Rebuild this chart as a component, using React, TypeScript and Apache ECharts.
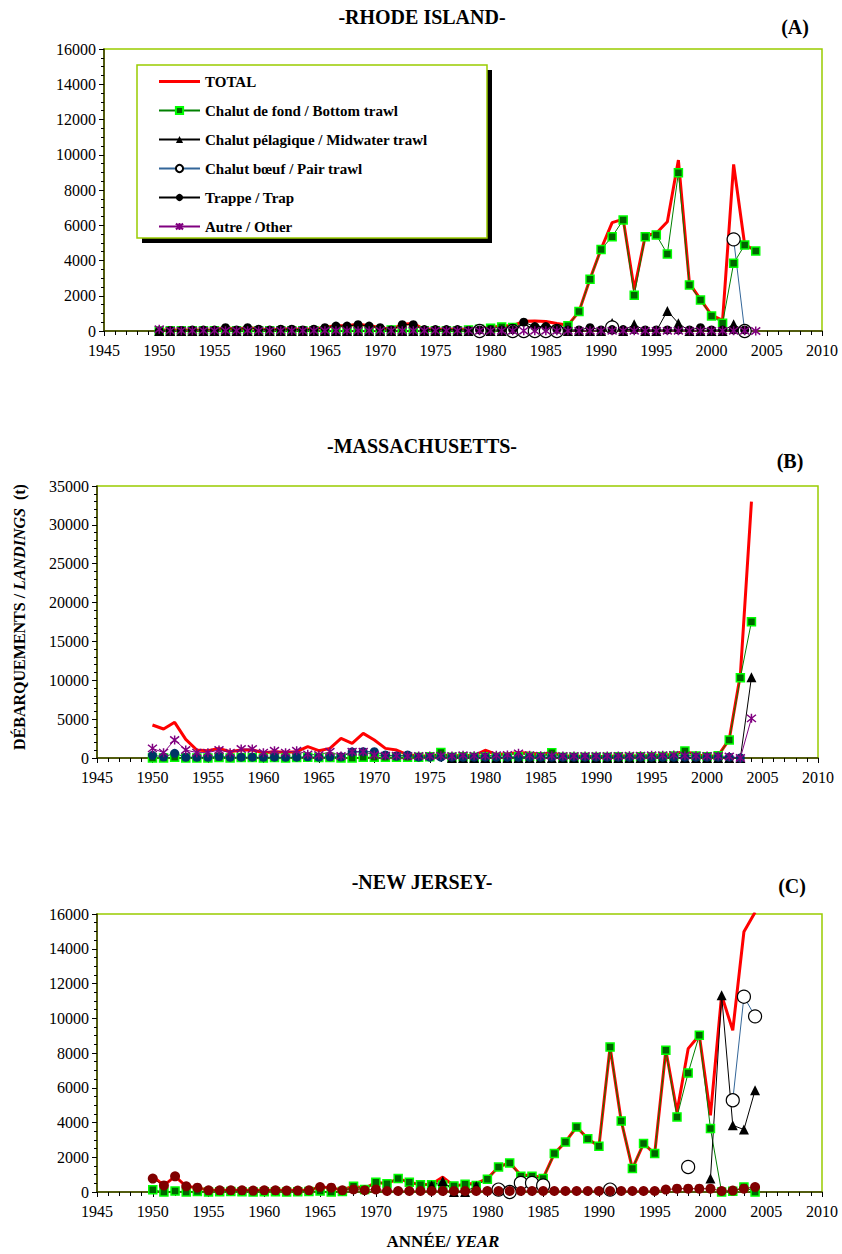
import React, { useEffect, useRef } from "react";
import * as echarts from "echarts";

const years = [
  1950, 1951, 1952, 1953, 1954, 1955, 1956, 1957, 1958, 1959,
  1960, 1961, 1962, 1963, 1964, 1965, 1966, 1967, 1968, 1969,
  1970, 1971, 1972, 1973, 1974, 1975, 1976, 1977, 1978, 1979,
  1980, 1981, 1982, 1983, 1984, 1985, 1986, 1987, 1988, 1989,
  1990, 1991, 1992, 1993, 1994, 1995, 1996, 1997, 1998, 1999,
  2000, 2001, 2002, 2003, 2004,
];

const seriesNames = [
  "TOTAL",
  "Chalut de fond / Bottom trawl",
  "Chalut pélagique / Midwater trawl",
  "Chalut bœuf / Pair trawl",
  "Trappe / Trap",
  "Autre / Other",
];

const panelTitles = ["-RHODE ISLAND-", "-MASSACHUSETTS-", "-NEW JERSEY-"];
const panelLetters = ["(A)", "(B)", "(C)"];
const yMaxes = [16000, 35000, 16000];
const yIntervals = [2000, 5000, 2000];

// ---------- (A) Rhode Island ----------
const riTotal = [
  50, 50, 50, 60, 60, 60, 200, 80, 200, 120,
  60, 120, 120, 80, 120, 200, 300, 300, 380, 300,
  200, 80, 380, 420, 100, 100, 100, 100, 80, 150,
  200, 280, 300, 550, 570, 540, 420, 330, 1100, 2950,
  4650, 6150, 6350, 2350, 5400, 5550, 6200, 9700, 2700, 1800,
  900, 600, 9450, 4900, 4550,
];
const riBottom = [
  0, 10, 10, 10, 10, 10, 20, 10, 20, 20,
  10, 20, 20, 10, 20, 20, 20, 20, 20, 20,
  10, 60, 20, 20, 10, 10, 10, 20, 60, 100,
  150, 230, 200, 30, 30, 30, 50, 300, 1100, 2930,
  4630, 5350, 6300, 2030, 5350, 5450, 4370, 8980, 2610, 1760,
  850, 440, 3840, 4880, 4540,
];
const riMidwater = [
  0, 0, 0, 0, 0, 0, 0, 0, 0, 0,
  0, 0, 0, 0, 0, 0, 0, 0, 0, 0,
  0, 0, 0, 0, 0, 0, 0, 0, 0, 0,
  0, 0, 0, 0, 0, 0, 0, 0, 0, 0,
  0, 450, 0, 380, 0, 0, 1140, 440, 0, 0,
  0, 0, 380, 0, null,
];
const riPair = [
  null, null, null, null, null, null, null, null, null, null,
  null, null, null, null, null, null, null, null, null, null,
  null, null, null, null, null, null, null, null, null, 0,
  null, null, 0, 0, 0, 0, 0, null, null, null,
  null, 200, null, null, null, null, null, null, null, null,
  null, null, 5200, 0, null,
];
const riTrap = [
  0, 30, 30, 50, 50, 50, 190, 60, 190, 100,
  50, 100, 100, 60, 100, 190, 280, 280, 360, 280,
  190, 60, 360, 360, 80, 80, 80, 80, 30, 60,
  60, 60, 80, 500, 250, 250, 100, 60, 60, 190,
  60, 80, 80, 80, 60, 60, 60, 60, 60, 190,
  60, 60, 60, 60, null,
];
const riOther = [
  100, 20, 20, 20, 20, 20, 20, 20, 20, 20,
  20, 20, 20, 20, 20, 20, 20, 20, 20, 20,
  20, 20, 20, 20, 20, 20, 20, 20, 20, 10,
  10, 10, 10, 10, 10, 10, 10, 10, 10, 10,
  10, 10, 10, 10, 10, 10, 10, 10, 10, 10,
  10, 10, 10, 10, 0,
];

// ---------- (B) Massachusetts ----------
const maTotal = [
  4250, 3730, 4590, 2400, 1030, 940, 1240, 810, 1030, 1030,
  690, 810, 750, 810, 1460, 940, 1240, 2530, 1890, 3170,
  2320, 1240, 1030, 390, 300, 250, 450, 250, 350, 300,
  1000, 450, 550, 700, 600, 500, 700, 300, 250, 200,
  200, 200, 300, 250, 300, 300, 400, 450, 900, 400,
  250, 300, 2400, 10700, 32980,
];
const maBottom = [
  0, 0, 100, 0, 0, 0, 50, 0, 50, 50,
  0, 50, 0, 50, 100, 50, 50, 0, 0, 100,
  100, 100, 100, 100, 100, 150, 700, 100, 150, 100,
  150, 100, 100, 150, 200, 150, 690, 100, 100, 100,
  100, 100, 150, 100, 150, 150, 200, 250, 900, 250,
  150, 300, 2320, 10330, 17540,
];
const maMidwater = [
  null, null, null, null, null, null, null, null, null, null,
  null, null, null, null, null, null, null, null, null, null,
  null, null, null, null, null, null, null, 0, 0, 0,
  0, 0, 0, 0, 0, 0, 0, 0, 0, 0,
  0, 0, 0, 0, 0, 0, 0, 0, 0, 0,
  0, 0, 0, 0, 10380,
];
const maTrap = [
  350, 150, 600, 100, 100, 100, 200, 100, 100, 100,
  100, 100, 100, 100, 150, 100, 150, 150, 770, 810,
  810, 390, 260, 390, 100, 100, 100, 100, 100, 100,
  100, 100, 100, 100, 100, 100, 100, 100, 100, 100,
  100, 100, 100, 100, 100, 100, 100, 100, 100, 100,
  100, 100, 100, 0, null,
];
const maOther = [
  1240, 690, 2320, 1030, 690, 690, 1030, 690, 1160, 1160,
  690, 940, 690, 940, 470, 390, 810, 260, 810, 810,
  390, 300, 300, 250, 250, 250, 300, 250, 350, 300,
  300, 350, 400, 600, 350, 300, 300, 250, 250, 250,
  250, 250, 250, 300, 300, 350, 350, 400, 300, 300,
  250, 250, 200, 0, 5100,
];

// ---------- (C) New Jersey ----------
const njTotal = [
  900, 380, 900, 330, 250, 100, 100, 100, 100, 100,
  100, 100, 100, 100, 100, 290, 250, 100, 350, 200,
  560, 480, 770, 560, 420, 450, 860, 350, 440, 500,
  770, 1440, 1690, 960, 960, 800, 2210, 2880, 3740, 3070,
  2630, 8340, 4090, 1350, 2790, 2210, 8160, 4600, 8250, 9020,
  4410, 11320, 9300, 14980, 16100,
];
const njBottom = [
  130, 0, 60, 0, 30, 0, 20, 30, 20, 0,
  20, 20, 0, 20, 30, 60, 0, 30, 330, 150,
  560, 480, 770, 560, 420, 420, 400, 350, 440, 380,
  730, 1440, 1670, 900, 900, 770, 2210, 2880, 3740, 3070,
  2630, 8340, 4090, 1350, 2790, 2210, 8160, 4320, 6850, 9020,
  3650, 0, 50, 290, 0,
];
const njMidwater = [
  null, null, null, null, null, null, null, null, null, null,
  null, null, null, null, null, null, null, null, null, null,
  null, null, null, null, null, 380, 630, 0, 0, 350,
  null, null, null, null, null, null, null, null, null, null,
  null, null, null, null, null, null, null, null, null, null,
  770, 11320, 3840, 3590, 5850,
];
const njPair = [
  null, null, null, null, null, null, null, null, null, null,
  null, null, null, null, null, null, null, null, null, null,
  null, null, null, null, null, null, null, null, null, null,
  null, 140, 0, 520, 520, 380, null, null, null, null,
  null, 140, null, null, null, null, null, null, 1440, null,
  null, null, 5280, 11240, 10110,
];
const njTrap = [
  770, 380, 900, 330, 250, 100, 100, 100, 100, 80,
  100, 100, 80, 80, 100, 290, 250, 100, 150, 100,
  150, 60, 60, 60, 60, 60, 60, 60, 60, 60,
  60, 60, 60, 60, 60, 60, 60, 60, 60, 60,
  60, 60, 60, 60, 60, 60, 140, 190, 190, 190,
  190, 60, 80, 190, 290,
];

const SERIF = "Liberation Serif";
const ASTERISK = "path://M0,1L10,9M10,1L0,9M5,0L5,10";

function pairs(vals: (number | null)[]) {
  return years.map((y, i) => [y, vals[i] === null ? null : vals[i]]);
}

type Style = {
  line: string;
  width: number;
  symbol: string;
  size: number;
  fill: string;
  border: string;
  bw: number;
};

const styleTotal: Style = { line: "#ff0000", width: 3, symbol: "none", size: 0, fill: "#ff0000", border: "#ff0000", bw: 0 };
const styleBottom: Style = { line: "#008000", width: 1, symbol: "rect", size: 8, fill: "#006400", border: "#00ff00", bw: 1.5 };
const styleMid: Style = { line: "#000000", width: 1, symbol: "triangle", size: 10, fill: "#000000", border: "#000000", bw: 0 };
const stylePair: Style = { line: "#336699", width: 1, symbol: "circle", size: 13, fill: "#ffffff", border: "#000000", bw: 1.2 };
const styleTrapA: Style = { line: "#000000", width: 1, symbol: "circle", size: 9, fill: "#000000", border: "#000000", bw: 0 };
const styleTrapB: Style = { line: "#003366", width: 1, symbol: "circle", size: 9, fill: "#003366", border: "#003366", bw: 0 };
const styleTrapC: Style = { line: "#800000", width: 1, symbol: "circle", size: 10, fill: "#800000", border: "#800000", bw: 0 };
const styleOther: Style = { line: "#800080", width: 1, symbol: ASTERISK, size: 9, fill: "#800080", border: "#800080", bw: 1.5 };

function mk(name: string, idx: number, vals: (number | null)[], s: Style) {
  return {
    type: "line",
    name,
    xAxisIndex: idx,
    yAxisIndex: idx,
    data: pairs(vals),
    symbol: s.symbol,
    symbolSize: s.size,
    showSymbol: s.symbol !== "none",
    connectNulls: false,
    clip: true,
    lineStyle: { color: s.line, width: s.width },
    itemStyle: { color: s.fill, borderColor: s.border, borderWidth: s.bw },
    emphasis: { disabled: true },
  };
}

const grids = [
  { left: 104, top: 49, width: 718, height: 282 },
  { left: 97, top: 486, width: 721, height: 272 },
  { left: 97, top: 914, width: 725, height: 278 },
];
const yMinorSplits = [4, 5, 4];

export default function App() {
  const ref = useRef<HTMLDivElement>(null);
  useEffect(() => {
    if (!ref.current) return;
    const chart = echarts.init(ref.current, undefined, { renderer: "svg" });

    const xAxes = grids.map((_, i) => ({
      type: "value",
      gridIndex: i,
      min: 1945,
      max: 2010,
      interval: 5,
      axisLine: { show: true, onZero: false, lineStyle: { color: "#333300", width: 1.5 } },
      axisTick: { show: true, inside: false, length: 5, lineStyle: { color: "#000" } },
      minorTick: { show: true, splitNumber: 5, length: 4, lineStyle: { color: "#000" } },
      splitLine: { show: false },
      axisLabel: {
        formatter: (v: number) => String(v),
        fontFamily: SERIF,
        fontSize: 16,
        color: "#000",
        margin: 11,
      },
    }));
    const yAxes = grids.map((_, i) => ({
      type: "value",
      gridIndex: i,
      min: 0,
      max: yMaxes[i],
      interval: yIntervals[i],
      axisLine: { show: true, lineStyle: { color: "#333300", width: 1.5 } },
      axisTick: { show: true, inside: false, length: 5, lineStyle: { color: "#000" } },
      minorTick: { show: true, splitNumber: yMinorSplits[i], length: 3, lineStyle: { color: "#000" } },
      splitLine: { show: false },
      axisLabel: {
        formatter: (v: number) => String(v),
        fontFamily: SERIF,
        fontSize: 16,
        color: "#000",
        margin: 8,
      },
    }));

    const series = [
      mk(seriesNames[0], 0, riTotal, styleTotal),
      mk(seriesNames[1], 0, riBottom, styleBottom),
      mk(seriesNames[2], 0, riMidwater, styleMid),
      mk(seriesNames[3], 0, riPair, stylePair),
      mk(seriesNames[4], 0, riTrap, styleTrapA),
      mk(seriesNames[5], 0, riOther, styleOther),

      mk(seriesNames[0], 1, maTotal, styleTotal),
      mk(seriesNames[1], 1, maBottom, styleBottom),
      mk(seriesNames[2], 1, maMidwater, styleMid),
      mk(seriesNames[4], 1, maTrap, styleTrapB),
      mk(seriesNames[5], 1, maOther, styleOther),

      mk(seriesNames[0], 2, njTotal, styleTotal),
      mk(seriesNames[1], 2, njBottom, styleBottom),
      mk(seriesNames[2], 2, njMidwater, styleMid),
      mk(seriesNames[3], 2, njPair, stylePair),
      mk(seriesNames[4], 2, njTrap, styleTrapC),
    ];

    const titleYs = [17, 446, 882];
    const letterYs = [27, 461, 886];
    const letterXs = [795, 790, 792];

    const graphics: any[] = [];
    panelTitles.forEach((t, i) => {
      graphics.push({
        type: "text",
        x: 422,
        y: titleYs[i],
        z: 10,
        style: {
          text: t,
          fontFamily: SERIF,
          fontWeight: "bold",
          fontSize: 20,
          fill: "#000",
          align: "center",
          verticalAlign: "middle",
        },
      });
      graphics.push({
        type: "text",
        x: letterXs[i],
        y: letterYs[i],
        z: 10,
        style: {
          text: panelLetters[i],
          fontFamily: SERIF,
          fontWeight: "bold",
          fontSize: 20,
          fill: "#000",
          align: "center",
          verticalAlign: "middle",
        },
      });
    });
    // legend box shadow + box
    graphics.push({
      type: "rect",
      z: 5,
      shape: { x: 142, y: 70, width: 350, height: 173 },
      style: { fill: "#000" },
    });
    graphics.push({
      type: "rect",
      z: 6,
      shape: { x: 137, y: 65, width: 350, height: 173 },
      style: { fill: "#fff", stroke: "#99cc00", lineWidth: 1.5 },
    });
    // axis names
    graphics.push({
      type: "text",
      x: 19,
      y: 617,
      rotation: Math.PI / 2,
      z: 10,
      style: {
        text: "{b|DÉBARQUEMENTS / }{i|LANDINGS}{b|  (t)}",
        align: "center",
        verticalAlign: "middle",
        rich: {
          b: { fontFamily: SERIF, fontWeight: "bold", fontSize: 16, fill: "#000" },
          i: { fontFamily: SERIF, fontWeight: "bold", fontStyle: "italic", fontSize: 16, fill: "#000" },
        },
      },
    });
    graphics.push({
      type: "text",
      x: 443,
      y: 1241,
      z: 10,
      style: {
        text: "{b|ANNÉE/ }{i|YEAR}",
        align: "center",
        verticalAlign: "middle",
        rich: {
          b: { fontFamily: SERIF, fontWeight: "bold", fontSize: 17, fill: "#000" },
          i: { fontFamily: SERIF, fontWeight: "bold", fontStyle: "italic", fontSize: 17, fill: "#000" },
        },
      },
    });

    const legendData = seriesNames.map((n, i) =>
      i === 0 ? { name: n, icon: "path://M0,0L100,0L100,7L0,7Z" } : { name: n }
    );

    chart.setOption({
      animation: false,
      backgroundColor: "#ffffff",
      grid: grids.map((g) => ({ ...g, show: true, borderColor: "#99cc00", borderWidth: 1.5, backgroundColor: "transparent" })),
      xAxis: xAxes,
      yAxis: yAxes,
      legend: {
        show: true,
        orient: "vertical",
        left: 153,
        top: 69,
        z: 20,
        itemWidth: 41,
        itemHeight: 9,
        itemGap: 14,
        data: legendData,
        selectedMode: false,
        textStyle: { fontFamily: SERIF, fontWeight: "bold", fontSize: 15, lineHeight: 14, color: "#000" },
      },
      graphic: graphics,
      series,
    });
    return () => chart.dispose();
  }, []);
  return (
    <div
      ref={ref}
      style={{ position: "absolute", left: 0, top: 0, width: 842, height: 1254 }}
    />
  );
}
